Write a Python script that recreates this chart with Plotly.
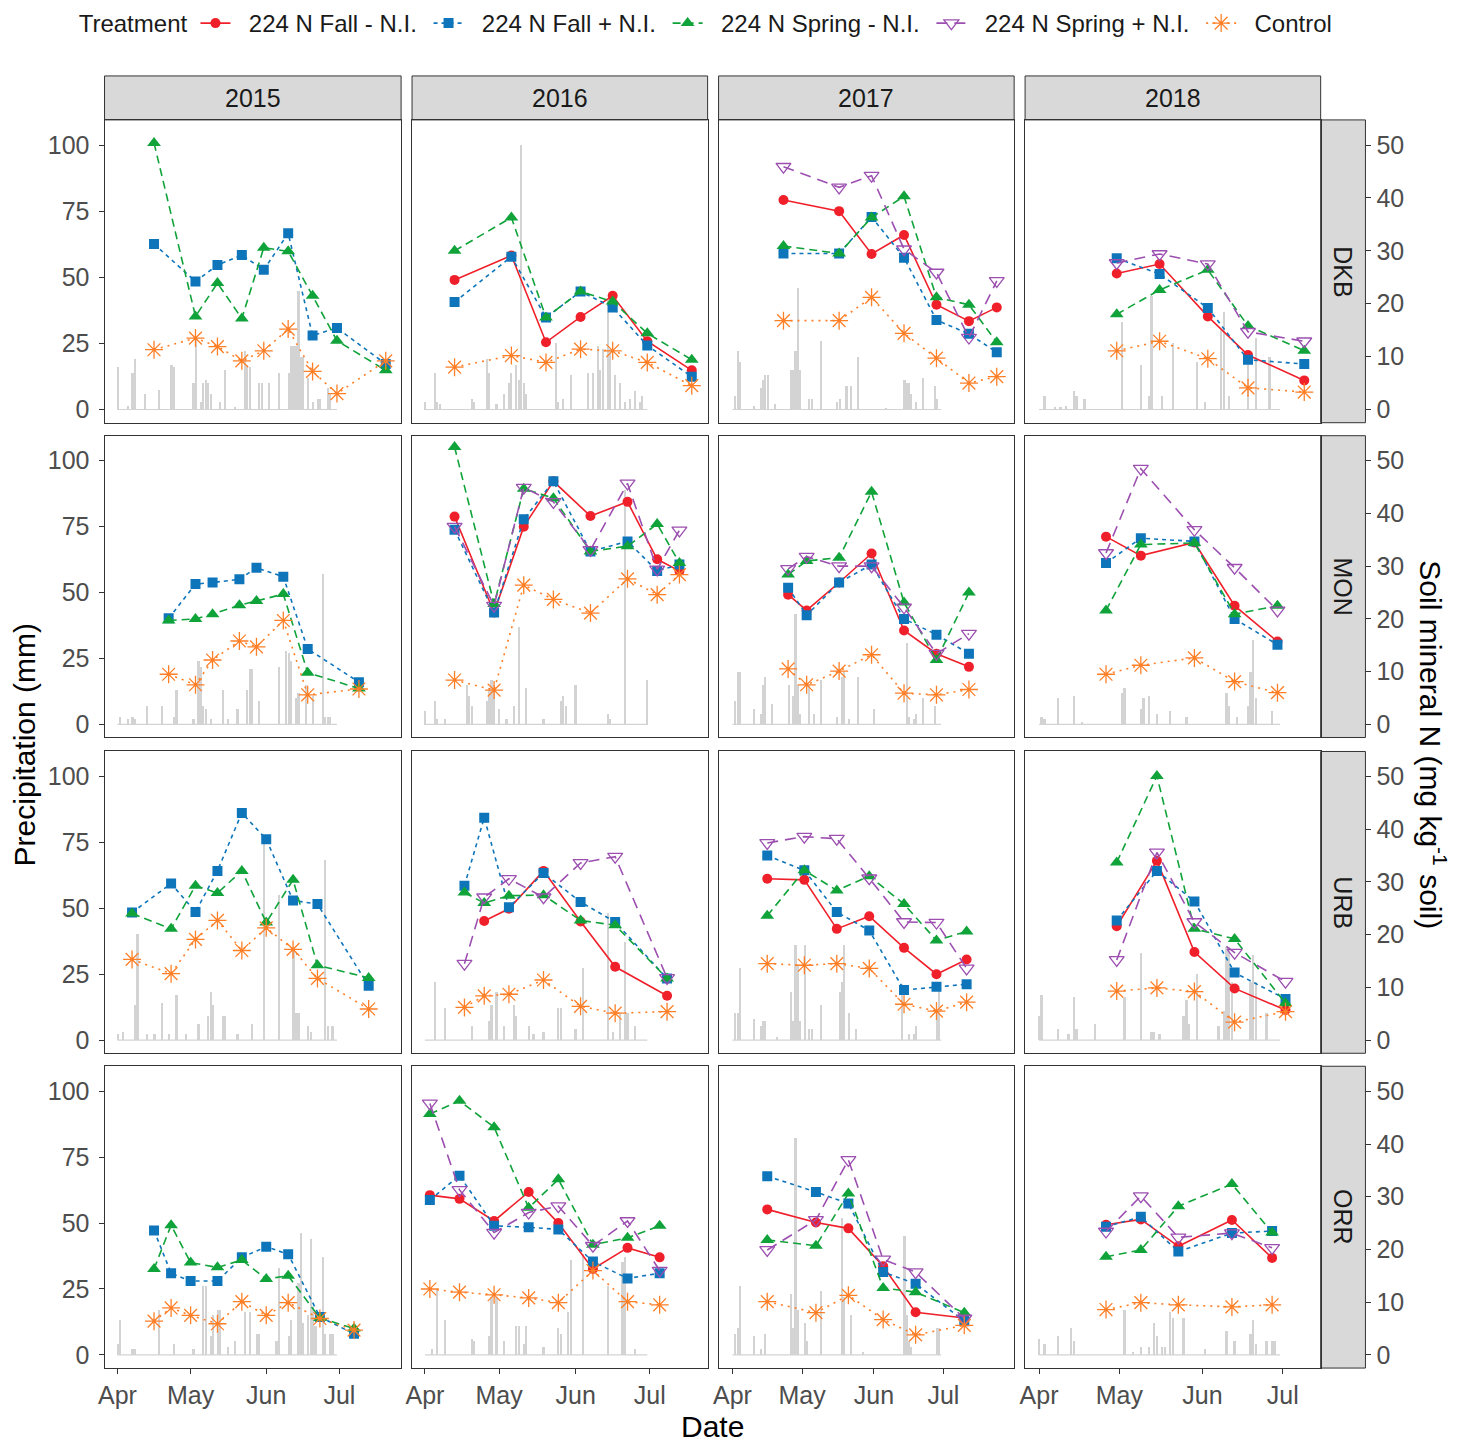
import plotly.graph_objects as go

W, H = 1458, 1450
SITES = ["DKB", "MON", "URB", "ORR"]
YEARS = [2015, 2016, 2017, 2018]
TREATMENTS = ["224 N Fall - N.I.", "224 N Fall + N.I.", "224 N Spring - N.I.",
              "224 N Spring + N.I.", "Control"]
TKEYS = ["fm", "fp", "sm", "sp", "ctrl"]
MONTH_TICKS = ["04-01", "05-01", "06-01", "07-01"]
MONTH_LABELS = ["Apr", "May", "Jun", "Jul"]
PRECIP_TICKS = [0, 25, 50, 75, 100]
N_TICKS = [0, 10, 20, 30, 40, 50]
RAIN_PERIOD = ["04-01", "06-30"]

# ---------------- Soil mineral N (mg/kg) ----------------
DKB_2015_dates = ["04-16", "05-03", "05-12", "05-22", "05-31", "06-10", "06-20", "06-30", "07-20"]
DKB_2015_fm = None
DKB_2015_fp = [31.3, 24.2, 27.3, 29.2, 26.4, 33.3, 14.0, 15.4, 8.6]
DKB_2015_sm = [50.4, 17.6, 23.9, 17.2, 30.6, 29.9, 21.5, 13.0, 7.4]
DKB_2015_sp = None
DKB_2015_ctrl = [11.3, 13.5, 11.9, 9.2, 11.1, 15.2, 7.2, 3.0, 9.2]

DKB_2016_dates = ["04-13", "05-06", "05-20", "06-03", "06-16", "06-30", "07-18"]
DKB_2016_fm = [24.5, 29.1, 12.7, 17.5, 21.5, 12.9, 7.4]
DKB_2016_fp = [20.3, 28.9, 17.4, 22.3, 19.3, 12.1, 6.2]
DKB_2016_sm = [30.0, 36.3, 17.4, 22.3, 20.4, 14.4, 9.4]
DKB_2016_sp = None
DKB_2016_ctrl = [8.0, 10.2, 8.9, 11.4, 11.1, 8.9, 4.5]

DKB_2017_dates = ["04-23", "05-17", "05-31", "06-14", "06-28", "07-12", "07-24"]
DKB_2017_fm = [39.6, 37.5, 29.4, 33.0, 19.8, 16.7, 19.3]
DKB_2017_fp = [29.5, 29.5, 36.4, 28.7, 16.9, 14.3, 10.8]
DKB_2017_sm = [30.9, 29.5, 36.3, 40.3, 21.2, 19.8, 12.7]
DKB_2017_sp = [45.9, 42.0, 44.2, 30.3, 25.9, 13.6, 24.3]
DKB_2017_ctrl = [16.8, 16.8, 21.2, 14.4, 9.7, 5.0, 6.2]

DKB_2018_dates = ["04-30", "05-16", "06-03", "06-18", "07-09"]
DKB_2018_fm = [25.7, 27.5, 17.6, 10.3, 5.5]
DKB_2018_fp = [28.6, 25.6, 19.2, 9.4, 8.6]
DKB_2018_sm = [18.0, 22.6, 26.4, 15.8, 11.1]
DKB_2018_sp = [27.7, 29.4, 27.5, 14.7, 12.9]
DKB_2018_ctrl = [11.1, 12.9, 9.6, 4.1, 3.3]

MON_2015_dates = ["04-22", "05-03", "05-10", "05-21", "05-28", "06-08", "06-18", "07-09"]
MON_2015_fm = None
MON_2015_fp = [20.1, 26.6, 26.9, 27.5, 29.7, 28.0, 14.3, 8.0]
MON_2015_sm = [19.7, 20.0, 20.9, 22.6, 23.4, 24.7, 9.8, 6.8]
MON_2015_sp = None
MON_2015_ctrl = [9.5, 7.5, 12.2, 15.8, 14.7, 19.7, 5.6, 6.7]

MON_2016_dates = ["04-13", "04-29", "05-11", "05-23", "06-07", "06-22", "07-04", "07-13"]
MON_2016_fm = [39.4, 21.2, 37.5, 46.1, 39.5, 42.2, 31.3, 29.1]
MON_2016_fp = [36.9, 21.2, 38.9, 46.1, 32.8, 34.7, 29.1, 30.3]
MON_2016_sm = [52.6, 22.8, 44.7, 42.9, 32.8, 33.8, 38.0, 30.6]
MON_2016_sp = [37.5, 22.5, 44.9, 42.2, 33.1, 45.7, 29.4, 36.8]
MON_2016_ctrl = [8.4, 6.5, 26.4, 23.7, 21.1, 27.6, 24.6, 28.4]

MON_2017_dates = ["04-25", "05-03", "05-17", "05-31", "06-14", "06-28", "07-12"]
MON_2017_fm = [24.6, 21.6, 26.9, 32.4, 17.8, 13.4, 10.9]
MON_2017_fp = [25.9, 20.7, 26.9, 30.3, 20.0, 17.0, 13.4]
MON_2017_sm = [28.4, 31.0, 31.6, 44.1, 23.1, 12.2, 25.0]
MON_2017_sp = [29.5, 31.8, 30.0, 30.0, 22.2, 13.4, 17.2]
MON_2017_ctrl = [10.5, 7.5, 10.1, 13.2, 5.9, 5.6, 6.6]

MON_2018_dates = ["04-26", "05-09", "05-29", "06-13", "06-29"]
MON_2018_fm = [35.6, 32.0, 34.5, 22.5, 15.7]
MON_2018_fp = [30.6, 35.3, 34.7, 20.0, 15.1]
MON_2018_sm = [21.6, 34.1, 34.4, 20.9, 22.5]
MON_2018_sp = [32.5, 48.5, 36.9, 29.7, 21.6]
MON_2018_ctrl = [9.5, 11.2, 12.6, 8.1, 6.0]

URB_2015_dates = ["04-07", "04-23", "05-03", "05-12", "05-22", "06-01", "06-12", "06-22", "07-13"]
URB_2015_fm = None
URB_2015_fp = [24.2, 29.7, 24.3, 32.1, 43.1, 38.1, 26.5, 25.8, 10.3]
URB_2015_sm = [24.0, 21.1, 29.3, 27.9, 32.1, 22.3, 30.4, 14.2, 11.8]
URB_2015_sp = None
URB_2015_ctrl = [15.3, 12.6, 19.1, 22.7, 17.0, 21.3, 17.2, 11.7, 5.9]

URB_2016_dates = ["04-17", "04-25", "05-05", "05-19", "06-03", "06-17", "07-08"]
URB_2016_fm = [None, 22.6, 24.9, 32.1, 22.5, 13.9, 8.4]
URB_2016_fp = [29.3, 42.2, 25.2, 31.7, 26.2, 22.4, 11.7]
URB_2016_sm = [28.0, 26.0, 27.4, 27.5, 22.7, 21.8, 11.7]
URB_2016_sp = [14.5, 27.1, 30.6, 27.1, 33.6, 34.8, 11.8]
URB_2016_ctrl = [6.2, 8.4, 8.7, 11.4, 6.4, 5.1, 5.4]

URB_2017_dates = ["04-16", "05-02", "05-16", "05-30", "06-14", "06-28", "07-11"]
URB_2017_fm = [30.6, 30.4, 21.1, 23.5, 17.5, 12.5, 15.3]
URB_2017_fp = [35.0, 32.2, 24.3, 20.8, 9.5, 10.1, 10.6]
URB_2017_sm = [23.6, 32.2, 28.4, 31.1, 25.8, 18.9, 20.6]
URB_2017_sp = [37.4, 38.6, 38.2, 30.7, 22.4, 22.3, 13.6]
URB_2017_ctrl = [14.5, 14.2, 14.5, 13.6, 6.8, 5.5, 7.2]

URB_2018_dates = ["04-30", "05-15", "05-29", "06-13", "07-02"]
URB_2018_fm = [21.6, 34.0, 16.7, 9.8, 5.7]
URB_2018_fp = [22.7, 32.1, 26.3, 12.8, 7.8]
URB_2018_sm = [33.7, 50.1, 21.1, 19.2, 7.0]
URB_2018_sp = [15.2, 35.6, 22.4, 16.6, 11.1]
URB_2018_ctrl = [9.3, 9.9, 9.2, 3.4, 5.4]

ORR_2015_dates = ["04-16", "04-23", "05-01", "05-12", "05-22", "06-01", "06-10", "06-23", "07-07"]
ORR_2015_fm = None
ORR_2015_fp = [23.6, 15.5, 14.0, 14.0, 18.5, 20.5, 19.1, 7.2, 4.0]
ORR_2015_sm = [16.3, 24.6, 17.5, 16.6, 18.0, 14.4, 15.0, 7.0, 5.0]
ORR_2015_sp = None
ORR_2015_ctrl = [6.4, 8.9, 7.5, 5.9, 10.1, 7.5, 9.9, 6.9, 4.7]

ORR_2016_dates = ["04-03", "04-15", "04-29", "05-13", "05-25", "06-08", "06-22", "07-05"]
ORR_2016_fm = [30.3, 29.6, 25.4, 30.9, 25.0, 16.3, 20.3, 18.5]
ORR_2016_fp = [29.4, 34.0, 24.5, 24.2, 23.8, 17.7, 14.5, 15.5]
ORR_2016_sm = [45.7, 48.2, 43.2, 27.9, 33.3, 20.9, 22.2, 24.5]
ORR_2016_sp = [47.7, 31.3, 23.2, 27.0, 28.2, 20.7, 25.4, 16.0]
ORR_2016_ctrl = [12.5, 11.9, 11.4, 10.8, 9.9, 16.0, 10.1, 9.5]

ORR_2017_dates = ["04-16", "05-07", "05-21", "06-05", "06-19", "07-10"]
ORR_2017_fm = [27.6, 25.1, 24.0, 16.8, 8.1, 7.0]
ORR_2017_fp = [33.9, 30.9, 28.7, 15.7, 13.5, 6.4]
ORR_2017_sm = [21.8, 20.7, 30.6, 12.7, 11.9, 8.0]
ORR_2017_sp = [19.9, 25.6, 37.0, 18.1, 15.7, 6.9]
ORR_2017_ctrl = [10.1, 8.0, 11.3, 6.7, 3.8, 5.6]

ORR_2018_dates = ["04-26", "05-09", "05-23", "06-12", "06-27"]
ORR_2018_fm = [24.7, 25.7, 20.6, 25.6, 18.4]
ORR_2018_fp = [24.3, 26.2, 19.6, 23.1, 23.5]
ORR_2018_sm = [18.6, 19.9, 28.2, 32.4, 23.2]
ORR_2018_sp = [23.4, 30.1, 22.3, 23.1, 20.3]
ORR_2018_ctrl = [8.6, 9.9, 9.5, 9.1, 9.5]

# ---------------- Daily precipitation (mm), rainy days only ----------------
DKB_2015_rain_days = ["04-01", "04-05", "04-07", "04-08", "04-12", "04-18", "04-23", "04-24", "05-02", "05-03",
                      "05-05", "05-06", "05-07", "05-08", "05-09", "05-13", "05-15", "05-19", "05-23", "05-24",
                      "05-25", "05-29", "05-30", "06-02", "06-06", "06-10", "06-11", "06-12", "06-13", "06-14",
                      "06-15", "06-16", "06-18", "06-20", "06-22", "06-23", "06-26", "06-27"]
DKB_2015_rain_mm = [16, 1.5, 14, 19, 6, 7.5, 17, 16, 10, 27,
                    3, 10, 11, 10, 6, 3, 15, 1, 22, 17,
                    16, 10, 10, 10, 14, 14, 24, 24, 24, 45,
                    20, 20, 12, 3, 4, 4, 8, 6]

DKB_2016_rain_days = ["04-01", "04-05", "04-06", "04-07", "04-20", "04-21", "04-26", "04-27", "04-30", "05-03",
                      "05-05", "05-06", "05-08", "05-09", "05-10", "05-11", "05-12", "05-24", "05-25", "05-27",
                      "05-30", "06-06", "06-08", "06-10", "06-11", "06-12", "06-14", "06-15", "06-17", "06-19",
                      "06-21", "06-23", "06-25", "06-27", "06-28"]
DKB_2016_rain_mm = [3, 14, 3, 2, 4, 3, 19, 14, 2, 6,
                    10, 14, 17, 11, 100, 10, 6, 25, 3, 4,
                    13, 14, 14, 24, 15, 23, 42, 23, 13, 10,
                    3, 4, 7, 3, 5]

DKB_2017_rain_days = ["04-02", "04-03", "04-04", "04-10", "04-13", "04-14", "04-15", "04-16", "04-19", "04-26",
                      "04-27", "04-28", "04-29", "04-30", "05-04", "05-05", "05-09", "05-16", "05-17", "05-20",
                      "05-22", "05-25", "06-06", "06-14", "06-15", "06-16", "06-17", "06-19", "06-22", "06-27",
                      "06-28"]
DKB_2017_rain_mm = [5, 22, 18, 1.5, 8, 11, 13, 13, 2, 15,
                    15, 22, 46, 15, 4, 4, 26, 3, 4, 9,
                    9, 20, 0.5, 11, 10, 10, 6, 3, 12, 9,
                    4]

DKB_2018_rain_days = ["04-03", "04-07", "04-09", "04-11", "04-14", "04-15", "04-18", "05-02", "05-09", "05-12",
                      "05-13", "05-17", "05-21", "05-30", "06-02", "06-08", "06-09", "06-11", "06-18", "06-21",
                      "06-26"]
DKB_2018_rain_mm = [5, 1, 1, 1.5, 7, 5, 4, 33, 17, 5,
                    43, 5, 25, 18, 3, 30, 37, 5, 20, 27,
                    20]

MON_2015_rain_days = ["04-02", "04-05", "04-07", "04-08", "04-13", "04-19", "04-24", "04-25", "05-02", "05-04",
                      "05-05", "05-06", "05-07", "05-09", "05-14", "05-16", "05-20", "05-24", "05-25", "05-26",
                      "05-29", "06-06", "06-09", "06-10", "06-11", "06-13", "06-14", "06-17", "06-20", "06-24",
                      "06-25", "06-26", "06-27"]
MON_2015_rain_mm = [3, 2, 3, 2, 7, 7, 3, 13, 2, 24,
                    22, 7, 6, 2, 13, 2, 6, 13, 21, 21,
                    9, 22, 28, 27, 24, 10, 12, 15, 11, 57,
                    3, 3, 3]

MON_2016_rain_days = ["04-01", "04-05", "04-06", "04-09", "04-18", "04-19", "04-20", "04-26", "04-27", "04-28",
                      "04-29", "05-01", "05-04", "05-07", "05-09", "05-12", "05-19", "05-26", "05-27", "05-28",
                      "06-01", "06-14", "06-15", "06-21", "06-30"]
MON_2016_rain_mm = [5, 9, 2, 2, 15, 11, 7, 9, 14, 17,
                    15, 6, 2, 7, 37, 14, 2, 9, 11, 7,
                    15, 4, 2, 89, 17]

MON_2017_rain_days = ["04-02", "04-03", "04-04", "04-10", "04-13", "04-14", "04-15", "04-18", "04-25", "04-27",
                      "04-28", "04-29", "04-30", "05-04", "05-06", "05-09", "05-16", "05-18", "05-19", "05-21",
                      "05-25", "06-01", "06-15", "06-16", "06-18", "06-19", "06-22", "06-27"]
MON_2017_rain_mm = [9, 20, 20, 6, 4, 15, 18, 8, 15, 11,
                    42, 15, 4, 15, 4, 17, 3, 18, 20, 2,
                    18, 6, 31, 3, 2, 4, 10, 7]

MON_2018_rain_days = ["04-02", "04-03", "04-08", "04-14", "04-17", "05-02", "05-03", "05-09", "05-10", "05-12",
                      "05-15", "05-20", "05-26", "06-10", "06-11", "06-14", "06-18", "06-19", "06-20", "06-21",
                      "06-27"]
MON_2018_rain_mm = [3, 2, 10, 11, 1, 12, 14, 6, 10, 11,
                    4, 5, 3, 12, 7, 3, 7, 20, 32, 10,
                    5]

URB_2015_rain_days = ["04-01", "04-03", "04-08", "04-09", "04-13", "04-16", "04-19", "04-22", "04-25", "04-29",
                      "05-04", "05-08", "05-09", "05-10", "05-14", "05-15", "05-20", "05-26", "05-31", "06-06",
                      "06-12", "06-13", "06-14", "06-18", "06-19", "06-25", "06-26", "06-28"]
URB_2015_rain_mm = [2, 3, 13, 40, 2, 2, 14, 2, 17, 2,
                    6, 9, 18, 13, 9, 9, 2, 6, 76, 55,
                    34, 10, 10, 5, 3, 68, 5, 5]

URB_2016_rain_days = ["04-05", "04-09", "04-20", "04-27", "04-28", "04-30", "05-03", "05-07", "05-08", "05-13",
                      "05-15", "05-19", "05-25", "05-26", "06-01", "06-04", "06-14", "06-16", "06-19", "06-21",
                      "06-22", "06-25"]
URB_2016_rain_mm = [22, 12, 5, 7, 13, 18, 5, 13, 9, 5,
                    2, 3, 12, 12, 4, 27, 48, 3, 10, 37,
                    10, 5]

URB_2017_rain_days = ["04-02", "04-03", "04-04", "04-10", "04-13", "04-14", "04-15", "04-20", "04-26", "04-27",
                      "04-28", "04-29", "04-30", "05-02", "05-04", "05-05", "05-09", "05-17", "05-18", "05-19",
                      "05-21", "05-24", "06-13", "06-16", "06-18", "06-19", "06-28", "06-29"]
URB_2017_rain_mm = [10, 10, 27, 8, 5, 7, 7, 1, 18, 7,
                    36, 28, 7, 36, 4, 4, 13, 18, 22, 36,
                    10, 4, 21, 2, 2, 5, 10, 19]

URB_2018_rain_days = ["04-01", "04-02", "04-08", "04-12", "04-14", "04-15", "04-22", "05-03", "05-09", "05-13",
                      "05-14", "05-16", "05-25", "05-26", "05-27", "05-30", "06-07", "06-09", "06-10", "06-11",
                      "06-12", "06-19", "06-20", "06-21", "06-25"]
URB_2018_rain_mm = [9, 17, 4, 2, 16, 4, 6, 16, 33, 3,
                    3, 2, 9, 15, 6, 25, 5, 11, 35, 35,
                    22, 22, 32, 22, 10]

ORR_2015_rain_days = ["04-01", "04-02", "04-07", "04-08", "04-18", "04-24", "05-02", "05-06", "05-07", "05-09",
                      "05-10", "05-12", "05-13", "05-16", "05-19", "05-23", "05-25", "05-28", "05-29", "06-05",
                      "06-06", "06-10", "06-11", "06-14", "06-15", "06-16", "06-18", "06-19", "06-20", "06-21",
                      "06-24", "06-25", "06-27", "06-28"]
ORR_2015_rain_mm = [4, 13, 2, 2, 17, 4, 2, 26, 26, 7,
                    15, 17, 17, 3, 5, 16, 16, 8, 8, 5,
                    33, 7, 13, 27, 46, 12, 15, 44, 18, 11,
                    37, 8, 8, 8]

ORR_2016_rain_days = ["04-04", "04-06", "04-09", "04-20", "04-21", "04-27", "04-28", "04-30", "05-03", "05-08",
                      "05-09", "05-11", "05-12", "05-19", "05-25", "05-26", "05-29", "05-30", "06-04", "06-14",
                      "06-20", "06-21", "06-25"]
ORR_2016_rain_mm = [2, 25, 13, 6, 5, 7, 22, 22, 5, 11,
                    11, 4, 11, 3, 10, 8, 16, 36, 38, 26,
                    35, 37, 2]

ORR_2017_rain_days = ["04-02", "04-03", "04-04", "04-10", "04-13", "04-15", "04-26", "04-27", "04-28", "04-29",
                      "05-02", "05-03", "05-09", "05-18", "05-19", "05-22", "05-27", "06-14", "06-15", "06-16",
                      "06-17", "06-28", "06-29"]
ORR_2017_rain_mm = [8, 10, 26, 7, 2, 8, 23, 10, 82, 17,
                    12, 5, 24, 52, 22, 15, 1, 45, 15, 5,
                    3, 10, 10]

ORR_2018_rain_days = ["04-01", "04-03", "04-08", "04-13", "04-14", "05-03", "05-06", "05-09", "05-12", "05-14",
                      "05-15", "05-17", "05-18", "05-20", "05-21", "05-25", "06-02", "06-10", "06-13", "06-19",
                      "06-20", "06-21", "06-25", "06-27", "06-28"]
ORR_2018_rain_mm = [6, 4, 7, 10, 5, 17, 1, 3, 3, 12,
                    7, 3, 3, 16, 14, 14, 2, 9, 5, 8,
                    13, 4, 5, 5, 5]

# ---------------- styling ----------------
COLORS = ["#F0202B", "#0E75BB", "#10A33A", "#9C4FB0", "#FF7F27"]
SYMBOLS = ["circle", "square", "triangle-up", "triangle-down-open", "asterisk-open"]
SIZES = [10, 10, 12, 13, 15]
DASHES = ["solid", "4px,4px", "8px,5px", "11px,7px", "2px,5px"]
RAIN_COLOR = "#D3D3D3"
FONT = "Liberation Sans, Arial, sans-serif"
TICK_COLOR = "#4D4D4D"
TEXT_COLOR = "#1A1A1A"
BORDER = "#333333"
TICK_SIZE = 25
STRIP_SIZE = 25
LEGEND_SIZE = 24
TITLE_SIZE = 30
NBSP = "\u00a0"

# pixel layout of panels
COL_X = [(98, 396), (407, 704), (715, 1012), (1023, 1320)]
ROW_Y = [(120, 423), (436, 738), (752, 1054), (1067, 1369)]
STRIP_TOP = (76, 120)
STRIP_RIGHT = (1320, 1365)
X_RANGES = {2015: ["2015-03-26 17:00", "2015-07-26 07:00"],
            2016: ["2016-03-26 19:00", "2016-07-24 10:00"],
            2017: ["2017-03-26 00:00", "2017-07-31 12:00"],
            2018: ["2018-03-26 19:00", "2018-07-15 03:00"]}
Y_RANGE = [-5.0, 109.5]
N_RANGE = [Y_RANGE[0] / 2, Y_RANGE[1] / 2]


def px(x):
    return x / W


def py(y):
    return 1 - y / H


fig = go.Figure()
layout = {}
shown = set()

for r, site in enumerate(SITES):
    for c, year in enumerate(YEARS):
        k = r * 4 + c + 1
        kn = 16 + k
        xa, ya, yn = f"x{k}", f"y{k}", f"y{kn}"
        g = globals()
        rdays = g[f"{site}_{year}_rain_days"]
        rmm = g[f"{site}_{year}_rain_mm"]
        fig.add_trace(go.Scatter(x=[f"{year}-{d}" for d in RAIN_PERIOD], y=[0, 0], mode="lines",
                                 line=dict(color=RAIN_COLOR, width=1.2), xaxis=xa, yaxis=ya,
                                 showlegend=False, hoverinfo="skip"))
        fig.add_trace(go.Bar(x=[f"{year}-{d}" for d in rdays], y=rmm, xaxis=xa, yaxis=ya,
                             marker=dict(color=RAIN_COLOR, line=dict(width=0)),
                             width=0.9 * 86400000, showlegend=False, name="Precipitation"))
        dates = [f"{year}-{d}" for d in g[f"{site}_{year}_dates"]]
        for ti, (tname, tk) in enumerate(zip(TREATMENTS, TKEYS)):
            vals = g[f"{site}_{year}_{tk}"]
            if vals is None:
                continue
            fig.add_trace(go.Scatter(
                x=dates, y=vals, xaxis=xa, yaxis=yn, mode="lines+markers",
                name=NBSP * 2 + tname + NBSP,
                legendgroup=tname, showlegend=tname not in shown, legendrank=ti,
                line=dict(color=COLORS[ti], width=1.6, dash=DASHES[ti]),
                marker=dict(symbol=SYMBOLS[ti], size=SIZES[ti], color=COLORS[ti],
                            line=dict(color=COLORS[ti], width=1.3 if ti >= 3 else 0))))
            shown.add(tname)

        x0, x1 = COL_X[c]
        y0, y1 = ROW_Y[r]
        bottom = r == 3
        tf = dict(size=TICK_SIZE, color=TICK_COLOR, family=FONT)
        layout[f"xaxis{k}"] = dict(
            domain=[px(x0), px(x1)], anchor=ya, type="date", range=X_RANGES[year],
            showgrid=False, zeroline=False, showline=True, mirror=True, linecolor=BORDER, linewidth=1,
            tickvals=[f"{year}-{m}" for m in MONTH_TICKS], ticktext=MONTH_LABELS,
            showticklabels=bottom, ticks="outside" if bottom else "", ticklen=5, tickcolor=BORDER,
            tickfont=tf)
        layout[f"yaxis{k}"] = dict(
            domain=[py(y1), py(y0)], anchor=xa, range=Y_RANGE, showgrid=False, zeroline=False,
            showline=True, mirror=True, linecolor=BORDER, linewidth=1,
            tickvals=PRECIP_TICKS, showticklabels=c == 0, ticks="outside" if c == 0 else "",
            ticklen=5, tickcolor=BORDER, tickfont=tf, ticklabelstandoff=4)
        layout[f"yaxis{kn}"] = dict(
            overlaying=ya, range=N_RANGE, showgrid=False, zeroline=False, showline=False,
            side="right", anchor="free", position=px(STRIP_RIGHT[1]),
            tickvals=N_TICKS, showticklabels=c == 3, ticks="outside" if c == 3 else "",
            ticklen=5, tickcolor=BORDER, tickfont=tf)

shapes = []
annotations = []
for c, year in enumerate(YEARS):
    x0, x1 = COL_X[c]
    shapes.append(dict(type="rect", xref="paper", yref="paper", x0=px(x0), x1=px(x1),
                       y0=py(STRIP_TOP[1]), y1=py(STRIP_TOP[0]), fillcolor="#D9D9D9",
                       line=dict(color=BORDER, width=1), layer="below"))
    annotations.append(dict(text=str(year), xref="paper", yref="paper", x=px((x0 + x1) / 2),
                            y=py(sum(STRIP_TOP) / 2), xanchor="center", yanchor="middle",
                            showarrow=False, font=dict(size=STRIP_SIZE, color=TEXT_COLOR, family=FONT)))
for r, site in enumerate(SITES):
    y0, y1 = ROW_Y[r]
    shapes.append(dict(type="rect", xref="paper", yref="paper", x0=px(STRIP_RIGHT[0]),
                       x1=px(STRIP_RIGHT[1]), y0=py(y1), y1=py(y0), fillcolor="#D9D9D9",
                       line=dict(color=BORDER, width=1), layer="below"))
    annotations.append(dict(text=site, xref="paper", yref="paper", x=px(sum(STRIP_RIGHT) / 2),
                            y=py((y0 + y1) / 2), xanchor="center", yanchor="middle",
                            showarrow=False, textangle=90,
                            font=dict(size=STRIP_SIZE, color=TEXT_COLOR, family=FONT)))

annotations.append(dict(text="Precipitation (mm)", xref="paper", yref="paper", x=px(18), y=py(745),
                        xanchor="center", yanchor="middle", showarrow=False, textangle=-90,
                        font=dict(size=TITLE_SIZE, color="black", family=FONT)))
annotations.append(dict(text="Soil mineral N (mg kg<sup>-1</sup> soil)", xref="paper", yref="paper",
                        x=px(1432), y=py(745), xanchor="center", yanchor="middle",
                        showarrow=False, textangle=90,
                        font=dict(size=TITLE_SIZE, color="black", family=FONT)))
annotations.append(dict(text="Date", xref="paper", yref="paper", x=px(709), y=py(1427),
                        xanchor="center", yanchor="middle", showarrow=False,
                        font=dict(size=TITLE_SIZE, color="black", family=FONT)))

fig.update_layout(
    width=W, height=H, autosize=False, margin=dict(l=0, r=0, t=0, b=0),
    plot_bgcolor="white", paper_bgcolor="white", barmode="overlay", bargap=0,
    font=dict(family=FONT, color=TEXT_COLOR),
    shapes=shapes, annotations=annotations,
    legend=dict(orientation="h", x=px(70), y=py(1), xanchor="left", yanchor="top",
                title=dict(text="Treatment", font=dict(size=LEGEND_SIZE, family=FONT, color=TEXT_COLOR)),
                font=dict(size=LEGEND_SIZE, family=FONT, color=TEXT_COLOR), bgcolor="rgba(0,0,0,0)",
                itemwidth=30, tracegroupgap=0),
    **layout)

fig.write_html("out.html", config={"displayModeBar": False},
               post_script="document.body.style.margin='0';document.body.style.padding='0';")
